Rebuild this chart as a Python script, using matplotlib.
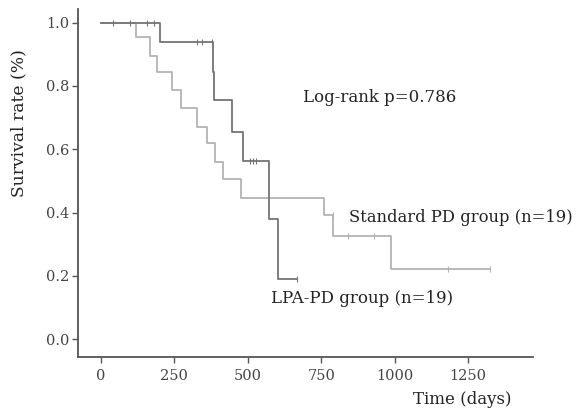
import matplotlib
matplotlib.use("Agg")
import matplotlib.pyplot as plt

# LPA-PD group (darker line)
lpa_t = [0, 200, 383, 386, 446, 483, 571, 602, 667]
lpa_s = [1.0, 0.939, 0.844, 0.756, 0.655, 0.563, 0.38, 0.19, 0.19]
lpa_cens_t = [41, 99, 156, 180, 327, 344, 378, 507, 518, 528, 667]
lpa_cens_s = [1.0, 1.0, 1.0, 1.0, 0.939, 0.939, 0.939, 0.563, 0.563, 0.563, 0.19]

# Standard PD group (lighter line)
std_t = [0, 119, 167, 190, 241, 272, 326, 360, 388, 415, 476, 759, 789, 986, 1323]
std_s = [1.0, 0.955, 0.895, 0.844, 0.787, 0.731, 0.67, 0.62, 0.56, 0.506,
         0.446, 0.393, 0.326, 0.222, 0.222]
std_cens_t = [789, 840, 929, 1180, 1323]
std_cens_s = [0.393, 0.326, 0.326, 0.222, 0.222]

xticks = [0, 250, 500, 750, 1000, 1250]
yticks = [0.0, 0.2, 0.4, 0.6, 0.8, 1.0]

DARK = "#747474"
LIGHT = "#b3b3b3"
W, H = 577, 412

plt.rcParams['font.family'] = ['DejaVu Serif']
fig = plt.figure(figsize=(W/100, H/100), dpi=100)
ax = fig.add_axes([78/W, 1-357/H, (533-78)/W, (357-9)/H])

ax.step(std_t, std_s, where='post', color=LIGHT, lw=1.3)
ax.plot(std_cens_t, std_cens_s, ls='none', marker='|', ms=5, mew=0.8, color=LIGHT)
ax.step(lpa_t, lpa_s, where='post', color=DARK, lw=1.3)
ax.plot(lpa_cens_t, lpa_cens_s, ls='none', marker='|', ms=5, mew=0.8, color=DARK)

ax.set_xlim(-78, 1471)
ax.set_ylim(-0.056, 1.043)
ax.set_xticks(xticks)
ax.set_yticks(yticks)
ax.set_yticklabels([f"{v:.1f}" for v in yticks])
ax.tick_params(labelsize=10.5, length=4, width=1, pad=2, color="#555555", labelcolor="#444444")
ax.tick_params(axis='x', pad=5)
for s in ['top', 'right']:
    ax.spines[s].set_visible(False)
for s in ['left', 'bottom']:
    ax.spines[s].set_color("#555555")
    ax.spines[s].set_linewidth(1.3)

ax.text(688, 0.762, "Log-rank p=0.786", fontsize=12, va='center', color="#222222")
ax.text(844, 0.386, "Standard PD group (n=19)", fontsize=11.8, va='center', color="#222222")
ax.text(579, 0.13, "LPA-PD group (n=19)", fontsize=12, va='center', color="#222222")

fig.text(462/W, 1-400/H, "Time (days)", fontsize=12, ha='center', va='center', color="#222222")
fig.text(19/W, 1-123/H, "Survival rate (%)", fontsize=12.3, rotation=90,
         ha='center', va='center', color="#222222")

fig.savefig("out.png", dpi=100)
